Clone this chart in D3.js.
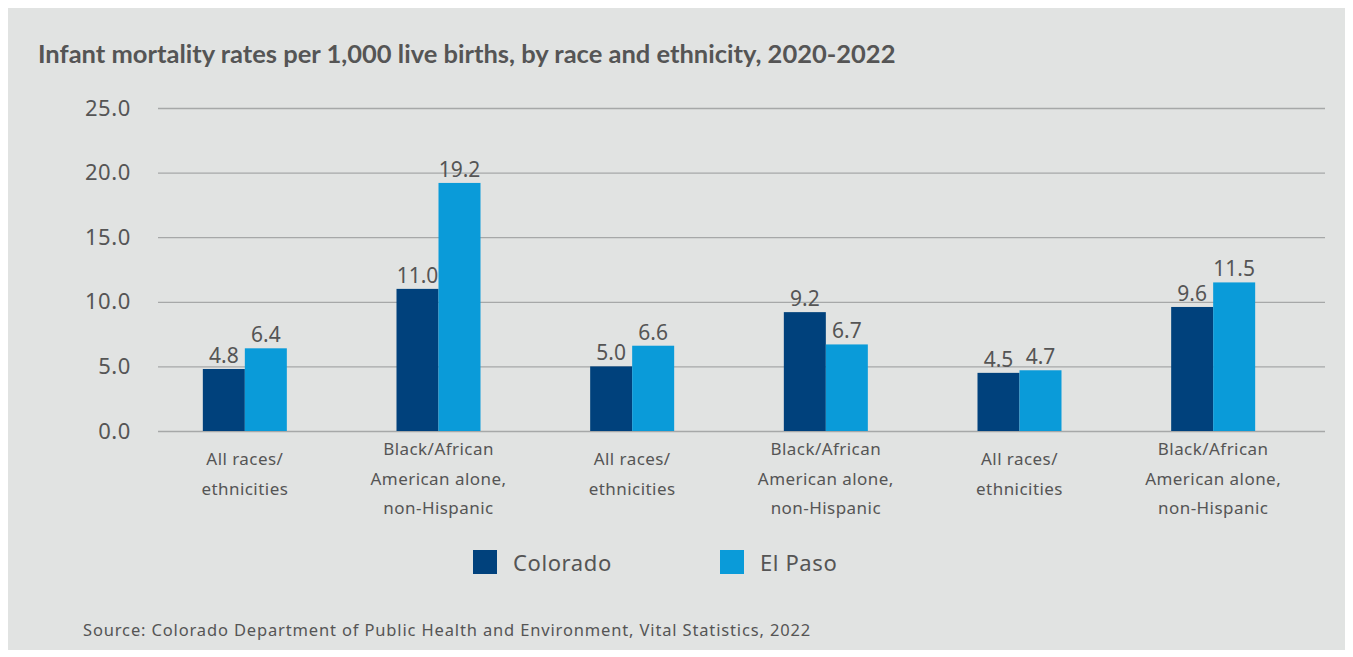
<!DOCTYPE html>
<html>
<head>
<meta charset="utf-8">
<script src="https://cdn.jsdelivr.net/npm/d3@7"></script>
<style>
  html, body { margin: 0; padding: 0; background: #ffffff; }
  svg { display: block; }
</style>
</head>
<body>
<svg id="chart" width="1353" height="657"></svg>
<script>
// Infant mortality rates per 1,000 live births
const categories = [
  "All races/\nethnicities",
  "Black/African\nAmerican alone,\nnon-Hispanic",
  "All races/\nethnicities",
  "Black/African\nAmerican alone,\nnon-Hispanic",
  "All races/\nethnicities",
  "Black/African\nAmerican alone,\nnon-Hispanic"
];
const seriesNames = ["Colorado", "El Paso"];
const colorado = [4.8, 11.0, 5.0, 9.2, 4.5, 9.6];
const elPaso = [6.4, 19.2, 6.6, 6.7, 4.7, 11.5];
const yTicks = [0, 5, 10, 15, 20, 25];
const colors = ["#00417c", "#0a9bd9"];

const titleText = "Infant mortality rates per 1,000 live births, by race and ethnicity, 2020-2022";
const sourceText = "Source: Colorado Department of Public Health and Environment, Vital Statistics, 2022";

const svg = d3.select("#chart");
const font = "'Noto Sans', 'Open Sans', sans-serif";
const textColor = "#555555";

// panel background
svg.append("rect")
  .attr("x", 8).attr("y", 8)
  .attr("width", 1337).attr("height", 642)
  .attr("fill", "#e1e3e2");

svg.append("text")
  .attr("x", 38).attr("y", 63)
  .attr("font-family", "Lato, 'Open Sans', sans-serif")
  .attr("font-weight", "bold")
  .attr("font-size", 25.5)
  .attr("fill", textColor)
  .text(titleText);

const plot = { left: 158, right: 1325, top: 108, bottom: 431 };
const bandRange = [148, 1310];

const y = d3.scaleLinear().domain([0, 25]).range([plot.bottom, plot.top]);
const x0 = d3.scaleBand().domain(d3.range(categories.length))
  .range(bandRange).paddingInner(0).paddingOuter(0);
const barW = 42;
const x1 = d3.scaleBand().domain(seriesNames).range([0, barW * 2]);

// gridlines and tick labels
const yAxis = d3.axisLeft(y).tickValues(yTicks)
  .tickSize(-(plot.right - plot.left))
  .tickPadding(27)
  .tickFormat(d3.format(".1f"));
const gAxis = svg.append("g")
  .attr("transform", `translate(${plot.left},0)`)
  .call(yAxis);
gAxis.select(".domain").remove();
gAxis.selectAll(".tick line").attr("stroke", "#a6a8a8").attr("stroke-width", 1.3);
gAxis.selectAll(".tick text")
  .attr("font-family", font)
  .attr("font-size", 22)
  .attr("letter-spacing", 0.6)
  .attr("fill", textColor);

// bars
const series = [colorado, elPaso];
const groups = svg.append("g").selectAll("g")
  .data(categories)
  .join("g")
  .attr("transform", (d, i) => `translate(${x0(i) + (x0.bandwidth() - barW * 2) / 2},0)`);

groups.selectAll("rect")
  .data((d, i) => seriesNames.map((s, k) => ({ s, v: series[k][i], k })))
  .join("rect")
  .attr("x", d => x1(d.s))
  .attr("y", d => y(d.v))
  .attr("width", x1.bandwidth())
  .attr("height", d => y(0) - y(d.v))
  .attr("fill", d => colors[d.k]);

groups.selectAll("text.value")
  .data((d, i) => seriesNames.map((s, k) => ({ s, v: series[k][i], k })))
  .join("text")
  .attr("class", "value")
  .attr("x", d => x1(d.s) + x1.bandwidth() / 2)
  .attr("y", d => y(d.v) - 6)
  .attr("text-anchor", "middle")
  .attr("font-family", font)
  .attr("font-size", 21)
  .attr("fill", textColor)
  .text(d => d3.format(".1f")(d.v));

// category labels
const lineH = 29.5;
const catG = svg.append("g");
categories.forEach((c, i) => {
  const lines = c.split("\n");
  const cx = x0(i) + x0.bandwidth() / 2;
  const firstY = 469 - 10 * (lines.length - 1) + 6;
  const t = catG.append("text")
    .attr("text-anchor", "middle")
    .attr("font-family", font)
    .attr("font-size", 17)
    .attr("letter-spacing", 0.45)
    .attr("fill", textColor);
  lines.forEach((ln, j) => {
    t.append("tspan").attr("x", cx).attr("y", firstY + j * lineH).text(ln);
  });
});

// legend
const legendX = [473, 720];
seriesNames.forEach((s, k) => {
  svg.append("rect")
    .attr("x", legendX[k]).attr("y", 550)
    .attr("width", 24).attr("height", 24)
    .attr("fill", colors[k]);
  svg.append("text")
    .attr("x", legendX[k] + 40).attr("y", 571)
    .attr("font-family", font)
    .attr("font-size", 22)
    .attr("letter-spacing", 0.6)
    .attr("fill", textColor)
    .text(s);
});

svg.append("text")
  .attr("x", 83).attr("y", 636)
  .attr("font-family", font)
  .attr("font-size", 16.5)
  .attr("letter-spacing", 0.85)
  .attr("fill", textColor)
  .text(sourceText);
</script>
</body>
</html>
